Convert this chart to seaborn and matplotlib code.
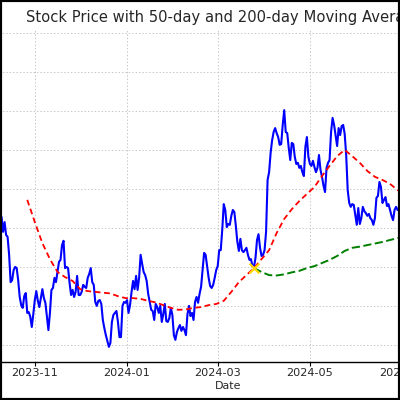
import numpy as np
import pandas as pd
import matplotlib
matplotlib.use("Agg")
import matplotlib.pyplot as plt
import matplotlib.dates as mdates
from matplotlib.patches import Rectangle
import seaborn as sns

# ---- data ----
price_start = "2023-10-08"
price = [
    92.6, 92.6, 92.9, 89.1, 91.6, 88.3, 87.8, 83.2, 76.2, 76.7,
    79.3, 80.1, 79.8, 76.7, 72.4, 70.3, 69.6, 72.6, 73.4, 68.3,
    68.5, 67.3, 64.7, 68.0, 71.6, 73.9, 71.4, 69.8, 72.1, 74.4,
    72.1, 70.9, 67.3, 63.9, 68.3, 74.2, 74.7, 77.3, 76.2, 78.8,
    81.4, 81.9, 85.7, 86.8, 79.8, 80.1, 79.8, 76.0, 72.9, 74.2,
    72.4, 73.7, 77.8, 72.9, 72.9, 73.7, 75.5, 75.0, 74.7, 77.3,
    78.3, 79.8, 76.2, 75.5, 71.1, 70.1, 71.4, 71.6, 70.6, 66.5,
    64.4, 62.6, 61.1, 59.6, 60.6, 66.0, 67.8, 68.3, 68.8, 66.0,
    62.1, 62.1, 70.1, 71.1, 70.9, 71.6, 68.3, 70.3, 73.7, 76.5,
    74.4, 77.8, 74.2, 77.3, 83.2, 80.9, 78.8, 78.0, 76.5, 73.2,
    71.1, 69.1, 68.8, 66.5, 70.6, 69.8, 68.3, 70.1, 66.0, 68.0,
    70.6, 66.2, 66.0, 67.0, 69.6, 67.8, 62.6, 61.4, 63.4, 64.4,
    65.2, 63.7, 64.7, 63.9, 62.6, 68.0, 70.1, 67.5, 68.3, 66.5,
    71.1, 72.4, 70.9, 73.2, 75.0, 79.3, 83.7, 83.2, 80.3, 77.3,
    75.2, 74.7, 75.5, 77.3, 79.3, 80.3, 84.4, 84.4, 89.6, 96.2,
    94.7, 90.3, 91.1, 90.9, 93.2, 94.7, 94.2, 90.6, 86.5, 84.2,
    87.3, 84.4, 83.9, 84.4, 85.0, 83.2, 81.9, 82.1, 80.3, 80.1,
    82.4, 87.0, 88.5, 85.0, 82.9, 83.2, 84.4, 89.1, 102.4, 104.4,
    109.3, 112.6, 114.7, 115.7, 114.4, 113.4, 111.4, 111.6, 116.5, 120.3,
    114.7, 114.4, 110.6, 107.5, 111.9, 111.6, 108.3, 106.5, 106.8, 105.5,
    106.0, 104.4, 103.4, 110.9, 113.4, 108.3, 106.5, 106.0, 107.3, 105.7,
    104.4, 105.5, 108.8, 105.0, 103.2, 100.9, 99.3, 105.5, 106.8, 107.5,
    114.7, 118.3, 116.5, 113.7, 111.1, 115.7, 113.9, 116.2, 116.5, 114.2,
    108.8, 99.8, 96.5, 95.5, 96.2, 96.0, 93.4, 90.9, 95.2, 91.1,
    92.6, 95.5, 94.4, 93.9, 93.2, 93.7, 92.6, 92.1, 90.9, 92.6,
    97.8, 98.3, 101.9, 100.6, 96.5, 97.3, 98.0, 95.7, 96.2, 94.7,
    93.2, 92.1, 94.7, 95.5, 94.7, 95.2, 96.0,
]

ma50_start = "2023-10-27"   # read every 5 days
ma50 = [
    97.3, 91.6, 86.2, 82.1, 78.8, 77.5, 76.5, 74.4, 73.9, 73.7,
    73.5, 73.3, 72.6, 72.1, 72.1, 71.9, 71.4, 71.0, 70.3, 69.6,
    69.1, 69.2, 69.6, 69.8, 70.3, 70.6, 71.4, 73.7, 76.2, 78.0,
    79.8, 82.1, 84.4, 88.8, 92.4, 94.9, 97.0, 98.8, 100.6, 103.4,
    106.0, 108.5, 110.1, 108.5, 106.8, 104.7, 103.2, 102.4, 101.4, 99.8,
    99.1,
]

ma200_start = "2024-03-25"  # read every 5 days
ma200 = [
    79.8, 78.8, 78.0, 77.9, 78.2, 78.7, 79.1, 79.8, 80.3, 81.1,
    81.9, 82.9, 84.2, 85.0, 85.3, 85.7, 86.1, 86.5, 87.0, 87.5,
    88.0,
]

cross_dates = ["2024-03-25"]
cross_values = [79.8]

y_ticks = [60, 70, 80, 90, 100, 110, 120, 130, 140]
title = "Stock Price with 50-day and 200-day Moving Averages"

# ---- frames ----
df_price = pd.DataFrame({"Date": pd.date_range(price_start, periods=len(price), freq="D"),
                         "Close": price})
df_ma50 = pd.DataFrame({"Date": pd.date_range(ma50_start, periods=len(ma50), freq="5D"),
                        "MA50": ma50})
df_ma200 = pd.DataFrame({"Date": pd.date_range(ma200_start, periods=len(ma200), freq="5D"),
                         "MA200": ma200})
df_cross = pd.DataFrame({"Date": pd.to_datetime(cross_dates), "Value": cross_values})

# ---- plot ----
sns.set_style("white")
plt.rcParams["font.family"] = ["DejaVu Sans"]

fig = plt.figure(figsize=(4, 4), dpi=100)
fig.patch.set_facecolor("white")
ax = fig.add_axes([-0.186, 0.095, 1.5125, 0.83])
ax.patch.set_edgecolor("none")

sns.lineplot(data=df_price, x="Date", y="Close", color="blue", linewidth=1.5, ax=ax, zorder=2)
sns.lineplot(data=df_ma50, x="Date", y="MA50", color="red", linewidth=1.3, ax=ax, zorder=3)
ax.lines[-1].set_dashes([3.2, 2])
sns.lineplot(data=df_ma200, x="Date", y="MA200", color="green", linewidth=1.4, ax=ax, zorder=3)
ax.lines[-1].set_dashes([4.2, 1.8])
sns.scatterplot(data=df_cross, x="Date", y="Value", marker="x", color="gold",
                s=50, linewidth=1.6, ax=ax, zorder=5)

ax.set_xlim(pd.Timestamp("2023-08-20 18:00"), pd.Timestamp("2024-09-24 00:00"))
ax.set_ylim(55.72, 140.85)
ax.set_yticks(y_ticks)
ax.xaxis.set_major_locator(mdates.MonthLocator(bymonth=[1, 3, 5, 7, 9, 11]))
ax.xaxis.set_major_formatter(mdates.DateFormatter("%Y-%m"))

ax.grid(True, linestyle=(0, (1.5, 2)), color="#c8c8c8", linewidth=0.7)
ax.spines["top"].set_visible(False)
ax.spines["right"].set_visible(False)
for s in ["bottom", "left"]:
    ax.spines[s].set_color("black")
    ax.spines[s].set_linewidth(1.0)
ax.tick_params(axis="both", direction="out", length=3, width=0.8, color="black",
               labelsize=8.1, pad=1.5, bottom=True, left=True)

ax.set_title(title, fontsize=10.6, pad=6)
ax.set_xlabel("Date", fontsize=7.9, labelpad=2)
ax.set_ylabel("Price", fontsize=7.9)

# black frame round the picture, drawn on top of everything
frame = Rectangle((0, 0), 1, 1, transform=fig.transFigure, fill=False,
                  edgecolor="black", linewidth=3, zorder=100)
fig.add_artist(frame)

fig.savefig("out.png", dpi=100)
